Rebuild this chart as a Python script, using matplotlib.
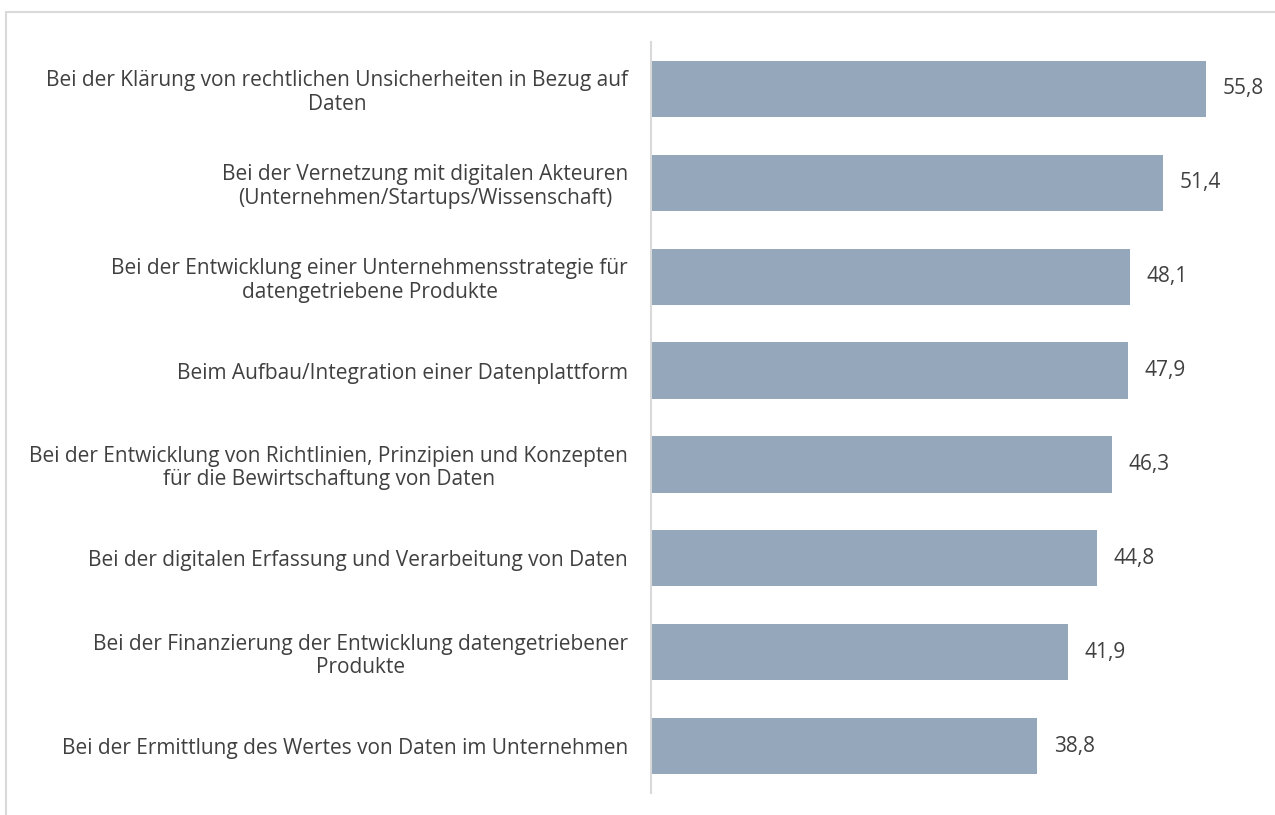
import matplotlib
matplotlib.use("Agg")
import matplotlib.pyplot as plt
from matplotlib.patches import Rectangle

categories = [
    "Bei der Klärung von rechtlichen Unsicherheiten in Bezug auf\nDaten",
    "Bei der Vernetzung mit digitalen Akteuren\n(Unternehmen/Startups/Wissenschaft)",
    "Bei der Entwicklung einer Unternehmensstrategie für\ndatengetriebene Produkte",
    "Beim Aufbau/Integration einer Datenplattform",
    "Bei der Entwicklung von Richtlinien, Prinzipien und Konzepten\nfür die Bewirtschaftung von Daten",
    "Bei der digitalen Erfassung und Verarbeitung von Daten",
    "Bei der Finanzierung der Entwicklung datengetriebener\nProdukte",
    "Bei der Ermittlung des Wertes von Daten im Unternehmen",
]
values = [55.8, 51.4, 48.1, 47.9, 46.3, 44.8, 41.9, 38.8]
value_labels = ["55,8", "51,4", "48,1", "47,9", "46,3", "44,8", "41,9", "38,8"]

plt.rcParams['font.family'] = ['Open Sans', 'DejaVu Sans']
W, H = 1275, 815
fig = plt.figure(figsize=(W / 100, H / 100), dpi=100)

# outer chart frame (light gray)
fig.patches.append(Rectangle((6 / W, -0.1), 1.5, (H - 12) / H + 0.1,
                             transform=fig.transFigure, fill=False,
                             edgecolor="#d9d9d9", linewidth=1.5))

ax = fig.add_axes([651 / W, (H - 793) / H, (1268 - 651) / W, (793 - 42) / H])
y = list(range(len(categories)))
ax.barh(y, values, height=0.6, color="#94a7bb")
ax.set_ylim(len(categories) - 0.5, -0.5)
ax.set_xlim(0, 62)
ax.set_yticks(y)
ax.set_yticklabels(categories, fontsize=15, color="#404040",
                   multialignment="center", linespacing=1.15)
ax.tick_params(axis="y", length=0, pad=16.5)
ax.set_xticks([])
for s in ["top", "right", "bottom"]:
    ax.spines[s].set_visible(False)
ax.spines["left"].set_color("#d9d9d9")
ax.spines["left"].set_linewidth(1.5)

for yi, v, lab in zip(y, values, value_labels):
    ax.annotate(lab, (v, yi), xytext=(12, 0), textcoords="offset points",
                ha="left", va="center", fontsize=15, color="#404040")

fig.savefig("out.png", dpi=100)
